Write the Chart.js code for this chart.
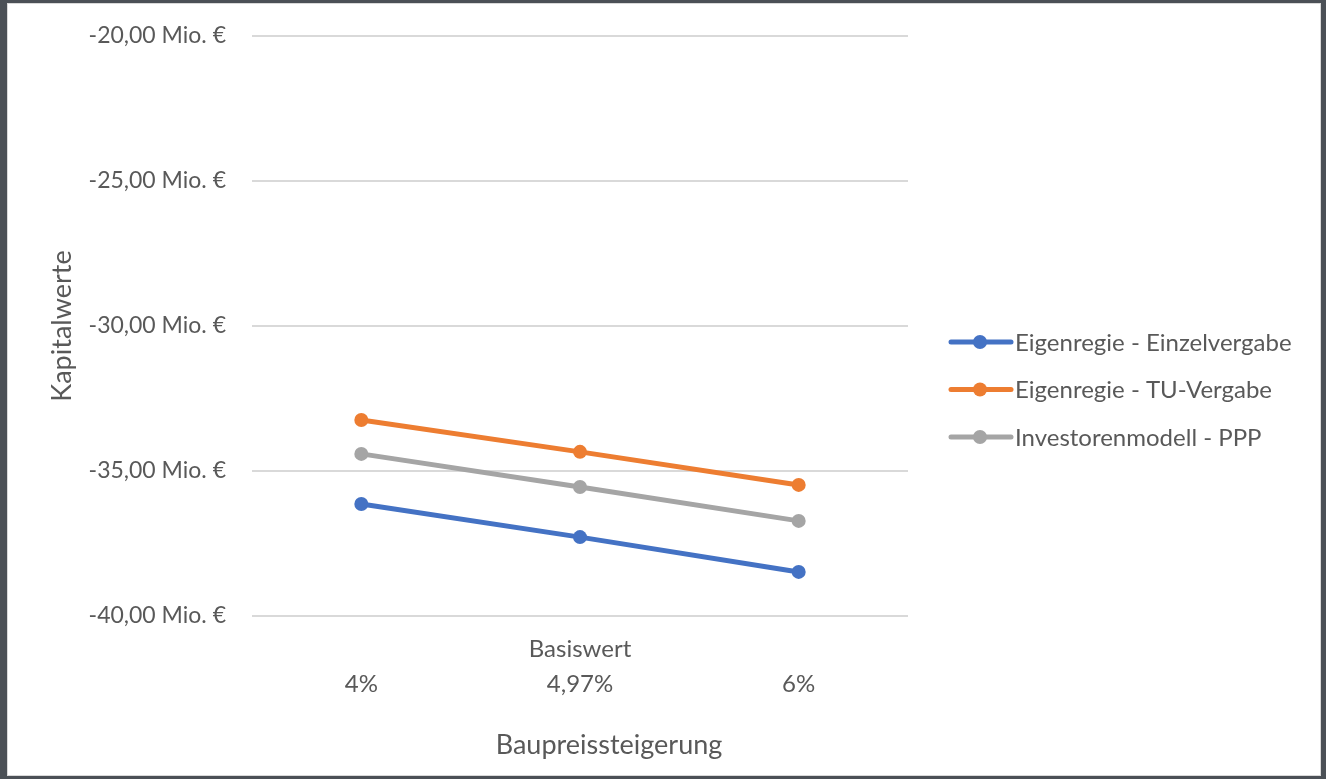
<!DOCTYPE html>
<html lang="de">
<head>
<meta charset="utf-8">
<title>Kapitalwerte – Baupreissteigerung</title>
<script src="https://cdn.jsdelivr.net/npm/chart.js@4.4.0/dist/chart.umd.min.js"></script>
<style>
  html, body { margin: 0; padding: 0; }
  body { width: 1326px; height: 779px; background: #4b5056; position: relative; overflow: hidden; }
  .frame { position: absolute; left: 7px; top: 3px; width: 1314px; height: 773px; box-sizing: border-box; border: 1px solid #d9d9d9; background: #fff; }
  .frame canvas { position: absolute; left: 0; top: 0; }
</style>
</head>
<body>
<div class="frame"><canvas id="chart" width="1312" height="771"></canvas></div>
<script>
// Werte in Mio. €
const categories = ["4%", "4,97%", "6%"];
const categoryNotes = ["", "Basiswert", ""];
const seriesNames = ["Eigenregie - Einzelvergabe", "Eigenregie - TU-Vergabe", "Investorenmodell - PPP"];
const einzelvergabe = [-36.14, -37.28, -38.48];
const tuVergabe = [-33.24, -34.34, -35.48];
const investorenmodell = [-34.41, -35.55, -36.72];
const yTicks = [-40, -35, -30, -25, -20];

const colors = ["#4472c4", "#ed7d31", "#a5a5a5"];
const textColor = "#595959";
const fontFamily = "Lato, 'Open Sans', sans-serif";

const formatMio = (value) => value.toFixed(2).replace(".", ",") + " Mio. €";

function dataset(label, data, color) {
  return {
    label,
    data,
    borderColor: color,
    backgroundColor: color,
    borderWidth: 5,
    pointRadius: 7,
    pointHoverRadius: 7,
    pointBorderWidth: 0,
    pointBackgroundColor: color,
    tension: 0,
    fill: false
  };
}

// Legende und Achsentitel wie in Excel
const excelDecorations = {
  id: "excelDecorations",
  afterDraw(chart) {
    const { ctx, chartArea } = chart;
    ctx.save();
    ctx.font = `24px ${fontFamily}`;
    ctx.fillStyle = textColor;
    ctx.textBaseline = "middle";

    chart.data.datasets.forEach((ds, i) => {
      const y = 338 + i * 47.5;
      const x0 = chartArea.right + 43;
      ctx.strokeStyle = ds.borderColor;
      ctx.lineWidth = 5;
      ctx.lineCap = "round";
      ctx.beginPath();
      ctx.moveTo(x0, y);
      ctx.lineTo(x0 + 60, y);
      ctx.stroke();
      ctx.fillStyle = ds.borderColor;
      ctx.beginPath();
      ctx.arc(x0 + 29, y, 7, 0, Math.PI * 2);
      ctx.fill();
      ctx.fillStyle = textColor;
      ctx.textAlign = "left";
      ctx.fillText(ds.label, x0 + 64, y + 1);
    });

    ctx.font = `27px ${fontFamily}`;
    ctx.textAlign = "center";
    ctx.fillText("Baupreissteigerung", (chartArea.left + chartArea.right) / 2 + 29, chartArea.bottom + 129);

    ctx.translate(chartArea.left - 190, (chartArea.top + chartArea.bottom) / 2);
    ctx.rotate(-Math.PI / 2);
    ctx.fillText("Kapitalwerte", 0, 0);
    ctx.restore();
  }
};

new Chart(document.getElementById("chart"), {
  type: "line",
  data: {
    labels: categories.map((c, i) => [categoryNotes[i], c]),
    datasets: [
      dataset(seriesNames[0], einzelvergabe, colors[0]),
      dataset(seriesNames[1], tuVergabe, colors[1]),
      dataset(seriesNames[2], investorenmodell, colors[2])
    ]
  },
  options: {
    responsive: false,
    animation: false,
    events: [],
    layout: { padding: { left: 0, top: 32, right: 412, bottom: 0 } },
    plugins: { legend: { display: false }, tooltip: { enabled: false } },
    scales: {
      x: {
        offset: true,
        grid: { display: false, drawTicks: false },
        border: { display: false },
        ticks: {
          color: textColor,
          padding: 16,
          maxRotation: 0,
          font: { family: fontFamily, size: 24, lineHeight: 1.45 }
        },
        afterFit(scale) { scale.height = 159; }
      },
      y: {
        min: yTicks[0],
        max: yTicks[yTicks.length - 1],
        afterBuildTicks(scale) { scale.ticks = yTicks.map((value) => ({ value })); },
        grid: { color: "#d9d9d9", lineWidth: 2, drawTicks: false },
        border: { display: false },
        ticks: {
          color: textColor,
          padding: 26,
          font: { family: fontFamily, size: 23 },
          callback: (value) => formatMio(value)
        },
        afterFit(scale) {
          scale.width = 244;
          scale.paddingTop = 0;
          scale.paddingBottom = 0;
        }
      }
    }
  },
  plugins: [excelDecorations]
});
</script>
</body>
</html>
